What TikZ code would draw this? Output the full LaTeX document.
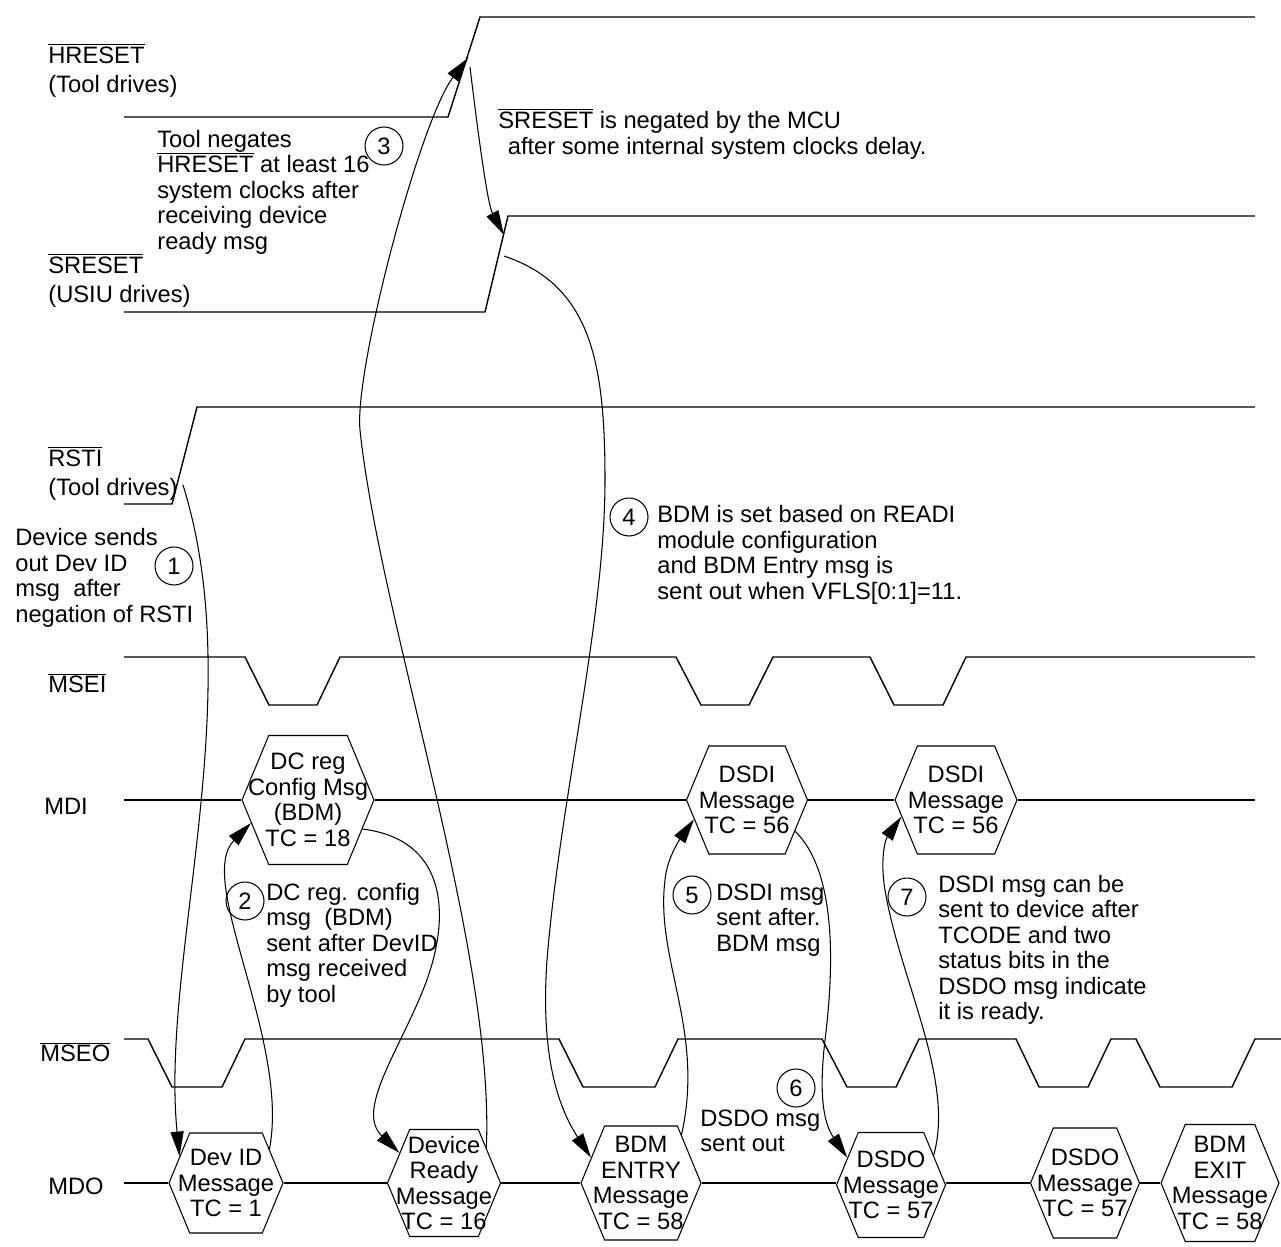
\documentclass[tikz,border=0pt]{standalone}
\usepackage{fontspec}
\setmainfont{Liberation Sans}
\usetikzlibrary{arrows.meta, shapes.symbols, positioning}
\newcommand{\ovl}[1]{$\overline{\mbox{#1}}$}

\begin{document}
\begin{tikzpicture}[x=0.02cm, y=-0.02cm, font=\fontsize{13.5}{14.5}\selectfont,
    wave/.style={line width=0.8pt},
    msg/.style={signal, signal to=east and west, signal pointer angle=135, draw, line width=0.6pt, inner sep=0pt},
    lbl/.style={anchor=west, inner sep=0pt, align=left},
    num/.style={circle, draw, line width=0.6pt, minimum size=0.76cm, inner sep=0pt},
    arrow/.style={-{Triangle[length=14pt, width=7.5pt]}, line width=0.6pt},
    every label/.style={align=center, inner sep=0pt}]
    \useasboundingbox (0,0) rectangle (1281,1247);

    % signal names
    \node[lbl] (hlbl) at (48,70) {\ovl{HRESET}\\[2pt](Tool drives)};
    \node[lbl] (slbl) at (48,280) {\ovl{SRESET}\\[2pt](USIU drives)};
    \node[lbl] (rlbl) at (48,473) {\ovl{RSTI}\\[2pt](Tool drives)};
    \node[lbl] (mseilbl) at (48,683) {\ovl{MSEI}};
    \node[lbl] (mdilbl) at (44,806) {MDI};
    \node[lbl] (mseolbl) at (40,1052) {\ovl{MSEO}};
    \node[lbl] (mdolbl) at (48,1186) {MDO};

    % waveforms
    \draw[wave] (124,117) -- (448,117) -- (480,17) -- (1255,17);
    \draw[wave] (124,312) -- (485,312) -- (508,216) -- (1255,216);
    \draw[wave] (124,504) -- (172,504) -- (197,407) -- (1255,407);
    \draw[wave] (124,657) -- (245,657) -- (269,705) -- (317,705) -- (340,657) -- (676,657) -- (701,705) -- (749,705)
        -- (773,657) -- (870,657) -- (894,705) -- (943,705) -- (966,657) -- (1255,657);
    \draw[wave] (124,1039) -- (148,1039) -- (172,1087) -- (222,1087) -- (245,1039) -- (559,1039) -- (583,1087) -- (655,1087)
        -- (678,1039) -- (822,1039) -- (847,1087) -- (896,1087) -- (919,1039) -- (1016,1039) -- (1039,1087) -- (1088,1087)
        -- (1111,1039) -- (1136,1039) -- (1160,1087) -- (1232,1087) -- (1255,1039) -- (1281,1039);

    % MDI messages
    \node[msg, minimum width=2.64cm, minimum height=2.58cm, label={center:{DC reg\\Config Msg\\(BDM)\\TC = 18}}] (dc) at (308,800) {};
    \node[msg, minimum width=2.42cm, minimum height=2.16cm, label={center:{DSDI\\Message\\TC = 56}}] (dsdi1) at (747,800) {};
    \node[msg, minimum width=2.44cm, minimum height=2.16cm, label={center:{DSDI\\Message\\TC = 56}}] (dsdi2) at (956,800) {};
    \draw[wave] (124,800) -- (dc.west) (dc.east) -- (dsdi1.west) (dsdi1.east) -- (dsdi2.west) (dsdi2.east) -- (1255,800);

    % MDO messages
    \node[msg, minimum width=2.28cm, minimum height=2cm, label={center:{Dev ID\\Message\\TC = 1}}] (devid) at (226,1183) {};
    \node[msg, minimum width=2.26cm, minimum height=2.14cm, label={center:{Device\\Ready\\Message\\TC = 16}}] (ready) at (444,1183) {};
    \node[msg, minimum width=2.4cm, minimum height=2.28cm, label={center:{BDM\\ENTRY\\Message\\TC = 58}}] (entry) at (641,1183) {};
    \node[msg, minimum width=2.18cm, minimum height=2.1cm, label={center:{DSDO\\Message\\TC = 57}}] (dsdo1) at (891,1185) {};
    \node[msg, minimum width=2.18cm, minimum height=2.2cm, label={center:{DSDO\\Message\\TC = 57}}] (dsdo2) at (1085,1183) {};
    \node[msg, minimum width=2.36cm, minimum height=2.34cm, label={center:{BDM\\EXIT\\Message\\TC = 58}}] (bdmexit) at (1220,1183) {};
    \draw[wave] (124,1183) -- (devid.west) (devid.east) -- (ready.west) (ready.east) -- (entry.west) (entry.east) -- (dsdo1.west |- entry.east)
        (dsdo1.east |- entry.east) -- (dsdo2.west) (dsdo2.east) -- (bdmexit.west);

    % notes
    \node[lbl] (note3) at (157,192) {Tool negates\\\ovl{HRESET} at least 16\\system clocks after\\receiving device\\ready msg};
    \node[lbl] (notesr) at (498,134) {\ovl{SRESET} is negated by the MCU\\\hspace*{0.4em}after some internal system clocks delay.};
    \node[lbl] (note1) at (15,578) {Device sends\\out Dev ID\\msg~~after\\negation of RSTI};
    \node[lbl] (note4) at (657,555) {BDM is set based on READI\\module configuration\\and BDM Entry msg is\\sent out when VFLS[0:1]=11.};
    \node[lbl] (note2) at (266,945) {DC reg. config\\msg~~(BDM)\\sent after DevID\\msg received\\by tool};
    \node[lbl] (note5) at (716,920) {DSDI msg\\sent after.\\BDM msg};
    \node[lbl] (note6) at (700,1131) {DSDO msg\\sent out};
    \node[lbl] (note7) at (938,950) {DSDI msg can be\\sent to device after\\TCODE and two\\status bits in the\\DSDO msg indicate\\it is ready.};

    \node[num] (n1) at (174,566) {1};
    \node[num] (n2) at (245,901) {2};
    \node[num] (n3) at (384,146) {3};
    \node[num] (n4) at (629,517) {4};
    \node[num] (n5) at (692,895) {5};
    \node[num] (n6) at (796,1088) {6};
    \node[num] (n7) at (907,897) {7};

    % causal arrows
    \coordinate (rsti) at (183,485);
    \coordinate (hrise) at (468,58);
    \coordinate (hrise2) at (470,67);
    \coordinate (srise) at (504,235);
    \coordinate (srise2) at (504,256);
    \draw[arrow] (rsti) .. controls (250,700) and (160,960) .. (devid.150);
    \draw[arrow] (devid.38) .. controls (290,1040) and (195,880) .. (dc.202);
    \draw[arrow] (dc.-28) .. controls (450,840) and (450,920) .. (425,985) .. controls (400,1050) and (355,1110) .. (ready.146);
    \draw[arrow] (ready.40) .. controls (495,950) and (380,620) .. (360,430) .. controls (354,370) and (420,120) .. (hrise);
    \draw[arrow] (hrise2) .. controls (480,150) and (488,205) .. (srise);
    \draw[arrow] (srise2) .. controls (590,285) and (605,360) .. (605,480) .. controls (605,620) and (560,800) .. (547,960)
        .. controls (540,1060) and (560,1110) .. (entry.153);
    \draw[arrow] (entry.50) .. controls (705,1030) and (655,960) .. (665,880) .. controls (667,855) and (685,832) .. (dsdi1.200);
    \draw[arrow] (dsdi1.-33) .. controls (835,870) and (835,960) .. (825,1040) .. controls (818,1100) and (825,1125) .. (dsdo1.148);
    \draw[arrow] (dsdo1.35) .. controls (955,1080) and (900,980) .. (885,890) .. controls (880,860) and (885,840) .. (dsdi2.197);
\end{tikzpicture}
\end{document}
